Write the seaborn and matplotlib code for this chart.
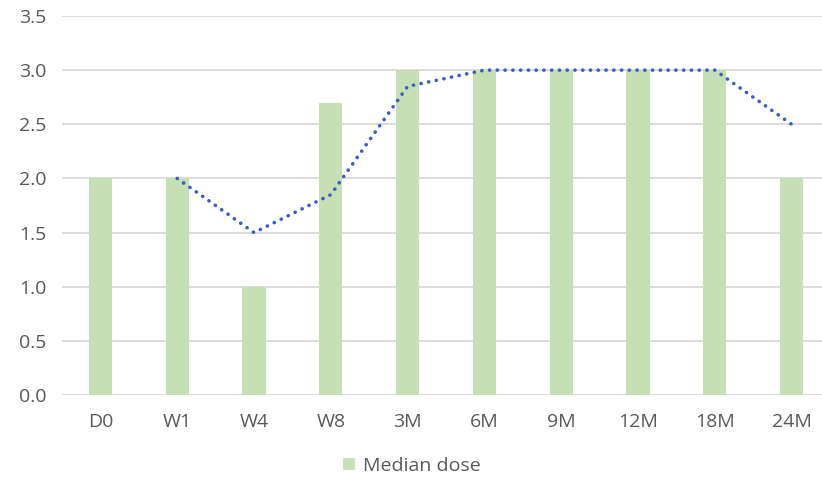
import matplotlib
matplotlib.use("Agg")
import matplotlib.pyplot as plt
import seaborn as sns
import pandas as pd
import numpy as np

# Visit schedule and median dose at each visit
visits = ["D0", "W1", "W4", "W8", "3M", "6M", "9M", "12M", "18M", "24M"]
median_dose = [2.0, 2.0, 1.0, 2.7, 3.0, 3.0, 3.0, 3.0, 3.0, 2.0]
# Two-period moving average trend of the median dose
trend = [np.nan, 2.0, 1.5, 1.85, 2.85, 3.0, 3.0, 3.0, 3.0, 2.5]

df = pd.DataFrame({"visit": visits, "dose": median_dose, "trend": trend})

sns.set_theme(style="white")
plt.rcParams["font.family"] = ["Open Sans", "DejaVu Sans"]

fig = plt.figure(figsize=(8.22, 4.84), dpi=100)
ax = fig.add_axes([62 / 822, 1 - 395 / 484, 768 / 822, 379 / 484])

sns.barplot(data=df, x="visit", y="dose", color="#C5E0B4", saturation=1,
            width=0.30, ax=ax, label="Median dose", zorder=3, linewidth=0)
ax.plot(np.arange(len(visits)), df["trend"], color="#3A5FC4",
        linestyle=(0, (0.05, 2.1)), linewidth=2.6, dash_capstyle="round",
        zorder=4)

ax.set_ylim(0, 3.5)
ax.set_xlim(-0.5, len(visits) - 0.5)
ax.set_yticks(np.arange(0, 3.51, 0.5))
ax.set_yticklabels([f"{v:.1f}" for v in np.arange(0, 3.51, 0.5)])
ax.yaxis.grid(True, color="#D9D9D9", linewidth=1.3, zorder=0)
ax.set_axisbelow(True)
for s in ax.spines.values():
    s.set_visible(False)
ax.set_xlabel("")
ax.set_ylabel("")
ax.tick_params(axis="both", colors="#595959", labelsize=14, length=0)
ax.tick_params(axis="x", pad=13)
ax.tick_params(axis="y", pad=11)

leg = ax.legend(loc="center", bbox_to_anchor=(412 / 822, 1 - 466 / 484),
                bbox_transform=fig.transFigure, frameon=False,
                fontsize=14, handlelength=0.6, handleheight=0.6,
                handletextpad=0.4)
for t in leg.get_texts():
    t.set_color("#595959")

fig.savefig("out.png", dpi=100)
